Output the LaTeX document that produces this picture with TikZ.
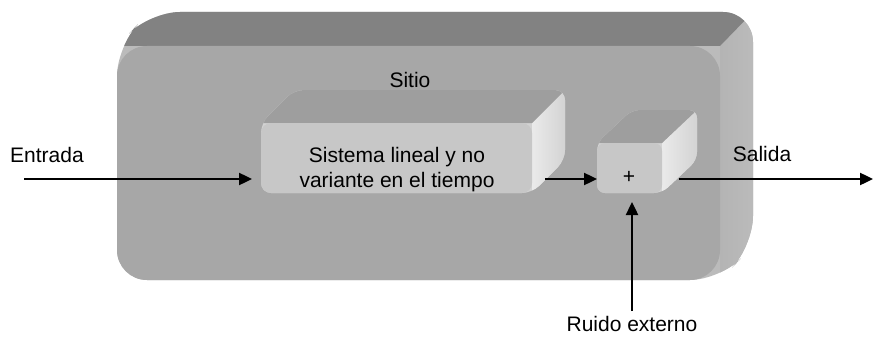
\documentclass[tikz,border=0pt]{standalone}
\usepackage{fontspec}
\setmainfont{Liberation Sans}
\usetikzlibrary{arrows.meta}
\newcommand\extbox[9]{%
  % #1 x1, #2 y1, #3 x2, #4 y2, #5 dx, #6 dy, #7 radius, #8 colour prefix, #9 node name
  \begin{scope}
    \path[fill=#8side, rounded corners=#7] (#1,#4) -- (#1,#2) -- ({#1+#5},{#2+#6}) -- ({#3+#5},{#2+#6}) -- ({#3+#5},{#4+#6}) -- (#3,#4) -- cycle;
    \clip[rounded corners=#7] (#1,#4) -- (#1,#2) -- ({#1+#5},{#2+#6}) -- ({#3+#5},{#2+#6}) -- ({#3+#5},{#4+#6}) -- (#3,#4) -- cycle;
    \shade[left color=#8sideL, right color=#8side] (#3,#2) -- ({#3+#5},{#2+#6}) -- ({#3+#5+2},{#2+#6}) -- ({#3+#5+2},{#4+#6}) -- (#3,#4) -- cycle;
    \fill[#8top] (#1,#2) -- ({#1+#5},{#2+#6}) -- ({#3+#5},{#2+#6}) -- (#3,#2) -- cycle;
  \end{scope}
  \node[#8front, rounded corners=#7, minimum width={#3-#1}, minimum height={#4-#2}] (#9) at ({(#1+#3)/2},{(#2+#4)/2}) {};
}
\definecolor{bigside}{HTML}{BBBBBB}
\definecolor{bigsideL}{HTML}{B4B4B4}
\definecolor{bigtop}{HTML}{828282}
\definecolor{bigfrontc}{HTML}{A7A7A7}
\definecolor{smallside}{HTML}{D2D2D2}
\definecolor{smallsideL}{HTML}{EAEAEA}
\definecolor{smalltop}{HTML}{9E9E9E}
\definecolor{smallfrontc}{HTML}{C7C7C7}
\tikzset{
  bigfront/.style={fill=bigfrontc, inner sep=0pt, draw=none},
  smallfront/.style={fill=smallfrontc, inner sep=0pt, draw=none},
  lbl/.style={font=\fontsize{21}{25}\selectfont, inner sep=0pt, align=center},
  arr/.style={line width=2.4pt, -{Triangle[length=13pt,width=12pt]}},
}
\begin{document}
\begin{tikzpicture}[x=1pt,y=-1pt]
\useasboundingbox (0,0) rectangle (873,337);
\extbox{117}{46}{720}{280}{33}{-34}{30}{big}{sitio}
\extbox{261}{123}{532}{193}{33}{-33}{10}{small}{sistema}
\extbox{597}{143}{662}{193}{35}{-33}{8}{small}{suma}
\node[lbl] (tsitio) at (410,80) {Sitio};
\node[lbl] (tsis) at (397,170) {Sistema lineal y no\\variante en el tiempo};
\node[lbl] (tplus) at (629,177) {+};
\node[lbl] (tin) at (47,155) {Entrada};
\node[lbl] (tout) at (762,154) {Salida};
\node[lbl] (tnoise) at (632,324) {Ruido externo};
\coordinate (inS) at (24,179);
\coordinate (inE) at (252,179);
\coordinate (midS) at (545,179);
\coordinate (midE) at (597,179);
\coordinate (outS) at (679,179);
\coordinate (outE) at (873,179);
\coordinate (nS) at (632,311);
\coordinate (nE) at (632,202);
\draw[arr] (inS) -- (inE);
\draw[arr] (midS) -- (midE);
\draw[arr] (outS) -- (outE);
\draw[arr] (nS) -- (nE);
\end{tikzpicture}
\end{document}
